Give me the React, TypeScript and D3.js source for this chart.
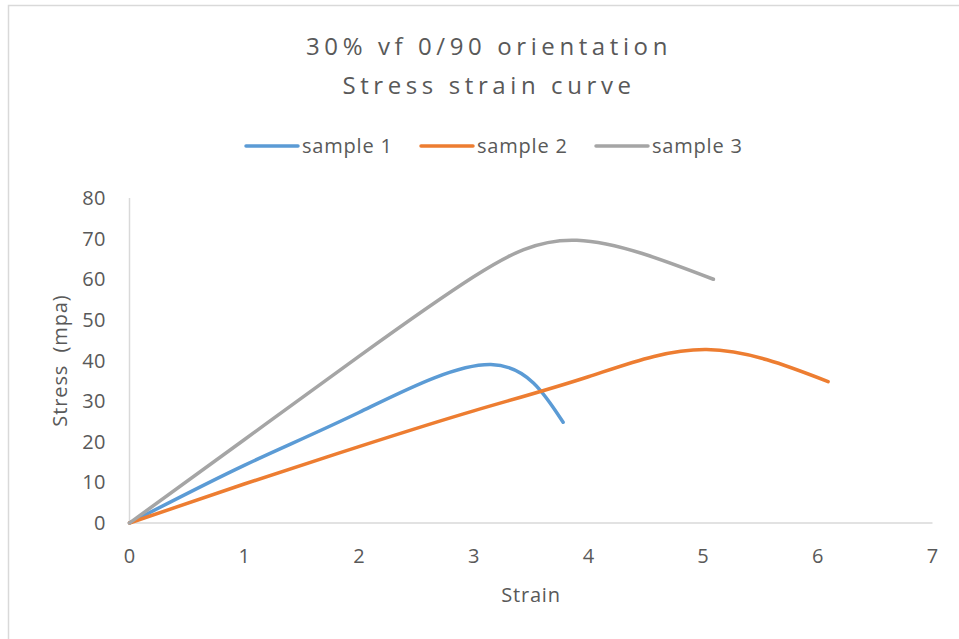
import React from "react";
import * as d3 from "d3";

const seriesNames = ["sample 1", "sample 2", "sample 3"];
const seriesColors = ["#5B9BD5", "#ED7D31", "#A5A5A5"];
const sample1Strain = [0, 1, 2, 3.15, 3.78];
const sample1Stress = [0, 14.2, 27.2, 39, 24.8];
const sample2Strain = [0, 1, 2, 3, 4, 5.03, 6.09];
const sample2Stress = [0, 9.6, 18.8, 27.6, 36, 42.7, 34.8];
const sample3Strain = [0, 1, 2, 3, 3.9, 5.09];
const sample3Stress = [0, 20.5, 41, 60.6, 69.6, 60];
const xTicks = [0, 1, 2, 3, 4, 5, 6, 7];
const yTicks = [0, 10, 20, 30, 40, 50, 60, 70, 80];
const titleLines = ["30% vf 0/90 orientation", "Stress strain curve"];
const xTitle = "Strain";
const yTitle = "Stress  (mpa)";

const W = 959;
const H = 639;
const FONT = "'Open Sans', sans-serif";
const TXT = "#595959";

export default function App() {
  const x = d3.scaleLinear().domain([0, 7]).range([129.5, 932.5]);
  const y = d3.scaleLinear().domain([0, 80]).range([523, 198]);
  const line = d3
    .line<[number, number]>()
    .x((d) => x(d[0]))
    .y((d) => y(d[1]))
    .curve(d3.curveNatural);
  const series = [
    sample1Strain.map((s, i) => [s, sample1Stress[i]] as [number, number]),
    sample2Strain.map((s, i) => [s, sample2Stress[i]] as [number, number]),
    sample3Strain.map((s, i) => [s, sample3Stress[i]] as [number, number]),
  ];
  const legendX = [246, 421, 596];
  return (
    <svg
      width={W}
      height={H}
      style={{ position: "absolute", left: 0, top: 0, background: "#fff" }}
      fontFamily={FONT}
    >
      <rect x={0} y={0} width={W} height={H} fill="#fff" />
      <rect x={8.5} y={5.5} width={W + 10} height={H + 10} fill="none" stroke="#d9d9d9" strokeWidth={1.5} />
      {titleLines.map((t, i) => (
        <text
          key={t}
          x={489}
          y={55 + i * 39}
          textAnchor="middle"
          fontSize={24}
          fontWeight={400}
          letterSpacing={4.6}
          fill={TXT}
        >
          {t}
        </text>
      ))}
      {seriesNames.map((n, i) => (
        <g key={n}>
          <line
            x1={legendX[i]}
            x2={legendX[i] + 52}
            y1={146}
            y2={146}
            stroke={seriesColors[i]}
            strokeWidth={3.5}
            strokeLinecap="round"
          />
          <text x={legendX[i] + 56} y={153} fontSize={20} letterSpacing={0.8} fill={TXT}>
            {n}
          </text>
        </g>
      ))}
      <line x1={x(0)} x2={x(7)} y1={y(0)} y2={y(0)} stroke="#d9d9d9" strokeWidth={1.5} />
      <line x1={x(0)} x2={x(0)} y1={y(0)} y2={y(80)} stroke="#d9d9d9" strokeWidth={1.5} />
      {yTicks.map((t) => (
        <text key={t} x={106} y={y(t) + 7} textAnchor="end" fontSize={20} letterSpacing={0.5} fill={TXT}>
          {t}
        </text>
      ))}
      {xTicks.map((t) => (
        <text key={t} x={x(t)} y={563} textAnchor="middle" fontSize={20} fill={TXT}>
          {t}
        </text>
      ))}
      <text x={531} y={602} textAnchor="middle" fontSize={20} letterSpacing={0.8} fill={TXT}>
        {xTitle}
      </text>
      <text
        transform={`translate(67, ${y(40)}) rotate(-90)`}
        textAnchor="middle"
        fontSize={20}
        letterSpacing={0.9}
        fill={TXT}
        style={{ whiteSpace: "pre" }}
      >
        {yTitle}
      </text>
      {series.map((s, i) => (
        <path
          key={i}
          d={line(s) || ""}
          fill="none"
          stroke={seriesColors[i]}
          strokeWidth={3.5}
          strokeLinecap="round"
        />
      ))}
    </svg>
  );
}
